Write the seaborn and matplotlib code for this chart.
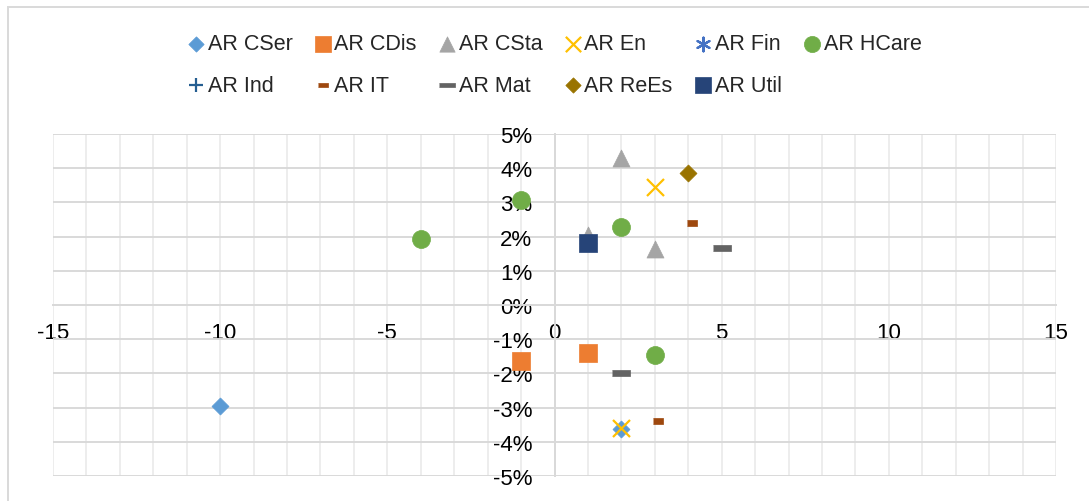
import numpy as np
import pandas as pd
import matplotlib
matplotlib.use("Agg")
import matplotlib.pyplot as plt
import seaborn as sns
from matplotlib.ticker import FuncFormatter, MultipleLocator
from matplotlib.patches import Rectangle

# series as they appear in the legend (Excel order)
series = ["AR CSer", "AR CDis", "AR CSta", "AR En", "AR Fin", "AR HCare",
          "AR Ind", "AR IT", "AR Mat", "AR ReEs", "AR Util"]

cser_x = [-10, 2]
cser_y = [-0.0296, -0.0363]
cdis_x = [-1, 1]
cdis_y = [-0.0164, -0.0139]
csta_x = [2, 3, 1]
csta_y = [0.0431, 0.0165, 0.0205]
en_x = [3, 2]
en_y = [0.0344, -0.0359]
fin_x = [2]
fin_y = [0.0229]
hcare_x = [-4, -1, 2, 3]
hcare_y = [0.0194, 0.0306, 0.0229, -0.0147]
ind_x = [1]
ind_y = [0.0182]
it_x = [4.1, 3.1]
it_y = [0.0239, -0.0338]
mat_x = [5, 2]
mat_y = [0.0167, -0.0200]
rees_x = [4]
rees_y = [0.0387]
util_x = [1]
util_y = [0.0182]

xs = [cser_x, cdis_x, csta_x, en_x, fin_x, hcare_x, ind_x, it_x, mat_x, rees_x, util_x]
ys = [cser_y, cdis_y, csta_y, en_y, fin_y, hcare_y, ind_y, it_y, mat_y, rees_y, util_y]

colors = ["#5B9BD5", "#ED7D31", "#A5A5A5", "#FFC000", "#4472C4", "#70AD47",
          "#255E91", "#9E480E", "#636363", "#997300", "#264478"]

# dash-shaped markers like Excel's
long_dash = [(-1, -0.28), (1, -0.28), (1, 0.28), (-1, 0.28)]
short_dash = [(-1, -0.5), (1, -0.5), (1, 0.5), (-1, 0.5)]
markers = ["D", "s", "^", "x", (6, 2, 0), "o", "+", short_dash, long_dash, "D", "s"]
sizes = [75, 168, 150, 150, 120, 168, 110, 55, 168, 75, 168]

rows = []
for name, xv, yv in zip(series, xs, ys):
    for a, b in zip(xv, yv):
        rows.append({"series": name, "x": a, "y": b})
df = pd.DataFrame(rows)

sns.set_theme(style="white")
plt.rcParams["font.family"] = ["Liberation Sans", "DejaVu Sans"]
plt.rcParams["axes.unicode_minus"] = False

fig = plt.figure(figsize=(10.89, 5.02), dpi=100)
ax = fig.add_axes([53 / 1089, 1 - 477 / 502, (1056 - 53) / 1089, (477 - 135) / 502])

for i, name in enumerate(series):
    sub = df[df["series"] == name]
    unfilled = markers[i] in ("x", "+") or isinstance(markers[i], tuple) and len(markers[i]) == 3
    sns.scatterplot(data=sub, x="x", y="y", ax=ax, marker=markers[i],
                    color=colors[i], s=sizes[i], label=name,
                    edgecolor=None if unfilled else colors[i],
                    linewidth=1.6 if unfilled else 0.5, zorder=3 + i)

ax.set_xlim(-15, 15)
ax.set_ylim(-0.05, 0.05)
ax.xaxis.set_major_locator(MultipleLocator(5))
ax.xaxis.set_minor_locator(MultipleLocator(1))
ax.yaxis.set_major_locator(MultipleLocator(0.01))
ax.yaxis.set_major_formatter(FuncFormatter(lambda v, p: f"{int(round(v * 100))}%"))
ax.xaxis.set_major_formatter(FuncFormatter(lambda v, p: f"{int(round(v))}"))

ax.grid(axis="x", which="both", color="#EDEDED", linewidth=1.4, zorder=0)
ax.grid(axis="y", which="major", color="#D9D9D9", linewidth=1.4, zorder=0)
ax.set_axisbelow(True)

for s in ["top", "right"]:
    ax.spines[s].set_visible(False)
ax.spines["left"].set_position("zero")
ax.spines["bottom"].set_position("zero")
ax.spines["left"].set_color("#D9D9D9")
ax.spines["bottom"].set_color("#D9D9D9")
ax.spines["left"].set_linewidth(1.4)
ax.spines["bottom"].set_linewidth(1.4)

ax.tick_params(axis="both", which="both", length=0, labelsize=16, colors="black")
ax.tick_params(axis="y", pad=16)
ax.tick_params(axis="x", pad=12)
ax.set_xlabel("")
ax.set_ylabel("")

handles, labels = ax.get_legend_handles_labels()
ax.get_legend().remove()
order = [0, 6, 1, 7, 2, 8, 3, 9, 4, 10, 5]
fig.legend([handles[k] for k in order], [labels[k] for k in order],
           loc="center", bbox_to_anchor=(0.510, 0.8695), ncol=6, frameon=False,
           fontsize=15.5, markerscale=0.9, handlelength=0.6, handletextpad=0.25,
           columnspacing=1.1, labelspacing=0.95)

fig.patches.append(Rectangle((8 / 1089, -0.1), 1.2, 1 - 8 / 502 + 0.1,
                             transform=fig.transFigure, fill=False,
                             edgecolor="#D9D9D9", linewidth=1.4))

fig.savefig("out.png", dpi=100)
